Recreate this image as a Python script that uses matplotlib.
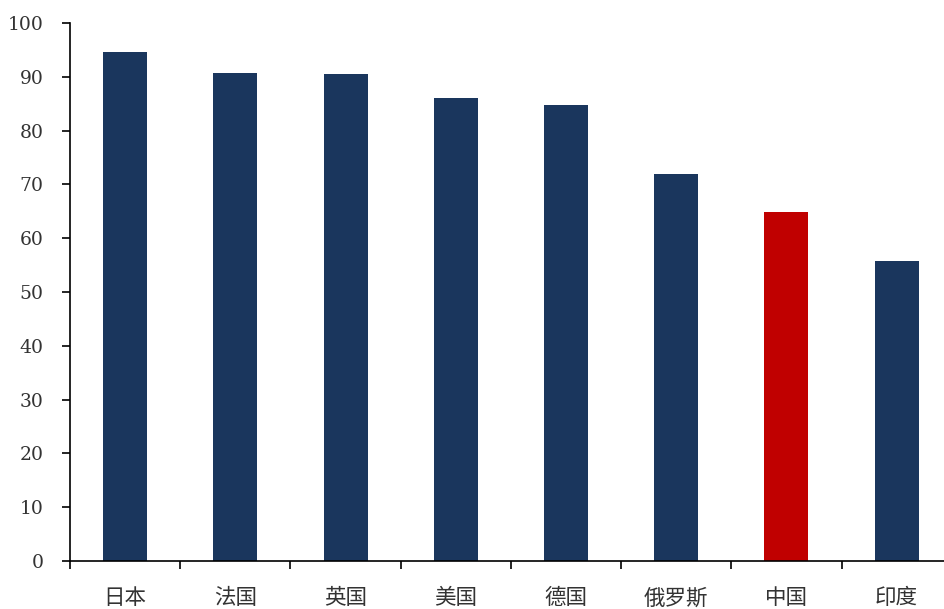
import matplotlib
matplotlib.use('Agg')
import matplotlib.pyplot as plt

categories = ['日本', '法国', '英国', '美国', '德国', '俄罗斯', '中国', '印度']
values = [94.6, 90.8, 90.6, 86.0, 84.8, 71.9, 64.8, 55.8]
highlight = '中国'
y_ticks = list(range(0, 101, 10))

navy = '#1A365D'
red = '#C00000'
plt.rcParams['font.family'] = ['DejaVu Serif', 'Noto Sans CJK SC', 'DejaVu Sans']

fig = plt.figure(figsize=(9.44, 6.09), dpi=100)
ax = fig.add_axes([0.0742, 0.0788, 0.9258, 0.8834])

x = list(range(len(categories)))
colors = [red if c == highlight else navy for c in categories]
ax.bar(x, values, width=0.4, color=colors)

ax.set_xlim(-0.5, 7.43)
ax.set_ylim(0, 100)
ax.set_yticks(y_ticks)
ax.set_yticklabels([str(t) for t in y_ticks], fontsize=13.5, color='#333333',
                   fontweight='light')

ax.set_xticks([i - 0.5 for i in range(len(categories))])
ax.set_xticklabels([])
ax.set_xticks(x, minor=True)
ax.set_xticklabels(categories, minor=True, fontsize=15.5, color='#333333',
                   family=['Noto Sans CJK SC', 'DejaVu Sans'], fontweight='light')
ax.tick_params(axis='x', which='minor', length=0, pad=19)
ax.tick_params(axis='x', which='major', length=6, width=1.2, direction='out')
ax.tick_params(axis='y', length=6, width=1.2, pad=13)

for s in ['top', 'right']:
    ax.spines[s].set_visible(False)
for s in ['left', 'bottom']:
    ax.spines[s].set_linewidth(1.2)
    ax.spines[s].set_color('black')

fig.savefig('out.png', dpi=100)
